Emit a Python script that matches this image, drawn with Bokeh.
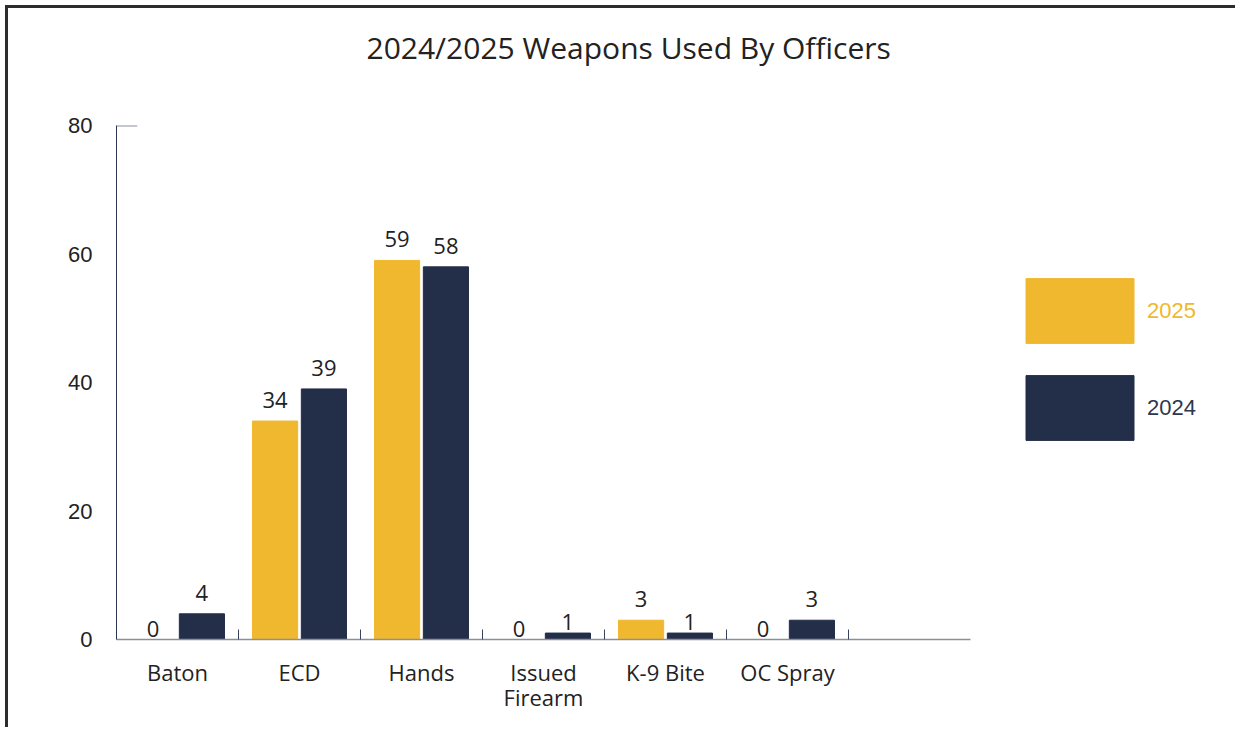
from bokeh.plotting import figure
from bokeh.models import Range1d, FixedTicker, Legend, LegendItem, ColumnDataSource, Title
from bokeh.core.properties import value
from bokeh.embed import file_html
from bokeh.resources import INLINE

# ---- data ----
title_text = "2024/2025 Weapons Used By Officers"
categories = ["Baton", "ECD", "Hands", "Issued\nFirearm", "K-9 Bite", "OC Spray"]
n_slots = 7  # axis reserves one empty slot on the right
series_names = ["2025", "2024"]
values_2025 = [0, 34, 59, 0, 3, 0]
values_2024 = [4, 39, 58, 1, 1, 3]
y_ticks = [0, 20, 40, 60, 80]

YELLOW = "#F0B82E"
NAVY = "#232E48"
TEXT = "#222222"
MAIN_FONT = "Open Sans"
NUM_FONT = "Liberation Sans"

# ---- layout constants (pixels) ----
W, H = 1230, 722
LEFT, TOP, BOTTOM = 108, 117, 91
AXIS_PX = 854                      # pixel length of the 7-slot axis
frame_px = W - LEFT
x_end = n_slots * frame_px / AXIS_PX   # frame extends right to hold the legend

centers = [i + 0.5 for i in range(len(categories))]
x25 = [c - 0.2 for c in centers]
x24 = [c + 0.2 for c in centers]

p = figure(width=W, height=H,
           x_range=Range1d(0, x_end), y_range=Range1d(y_ticks[0], y_ticks[-1]),
           output_backend="svg", toolbar_location=None,
           min_border_left=LEFT, min_border_right=0,
           min_border_top=TOP, min_border_bottom=BOTTOM)
p.styles = {"border-left": "3px solid #2d2d2d", "border-top": "3px solid #2d2d2d",
            "margin-left": "5px", "margin-top": "5px"}
p.outline_line_color = None
p.xgrid.visible = False
p.ygrid.visible = False
p.background_fill_color = "white"
p.border_fill_color = "white"

# title (outermost) with a thin spacer title between it and the plot
p.title.text = title_text
p.title.align = "left"
p.title.offset = 250
p.title.vertical_align = "top"
p.title.standoff = 34
p.title.text_font = MAIN_FONT
p.title.text_font_size = "30px"
p.title.text_font_style = "normal"
p.title.text_color = TEXT
p.add_layout(Title(text=" ", text_font_size="1px", standoff=36), "above")

# bars
r25 = p.vbar(x=x25, top=values_2025, width=0.37, fill_color=YELLOW, line_color=YELLOW)
r24 = p.vbar(x=x24, top=values_2024, width=0.37, fill_color=NAVY, line_color=NAVY)

# value labels
lab_x = x25 + x24
lab_v = values_2025 + values_2024
lab_off = [-21 if v >= 2 else -11 for v in lab_v]
src = ColumnDataSource(dict(x=lab_x, y=lab_v, t=[str(v) for v in lab_v], off=lab_off))
p.text(x="x", y="y", text="t", y_offset="off", source=src,
       text_align="center", text_baseline="middle",
       text_font=value(MAIN_FONT), text_font_size="22px", text_color=TEXT)

# top stub of y axis
p.segment(x0=[0], y0=[y_ticks[-1]], x1=[0.17], y1=[y_ticks[-1]],
          line_color="#8a8fa0", line_width=2)

# x axis
xa = p.xaxis[0]
xa.bounds = (0, n_slots)
xa.ticker = FixedTicker(ticks=centers, minor_ticks=list(range(1, n_slots)))
xa.major_label_overrides = {c: lab for c, lab in zip(centers, categories)}
xa.major_tick_in = 0
xa.major_tick_out = 0
xa.minor_tick_in = 10
xa.minor_tick_out = 0
xa.minor_tick_line_color = "#3a4260"
xa.minor_tick_line_width = 1
xa.axis_line_color = "#8a8fa0"
xa.axis_line_width = 1.5
xa.major_label_standoff = 17
xa.major_label_text_font = MAIN_FONT
xa.major_label_text_font_size = "22px"
xa.major_label_text_line_height = 0.86
xa.major_label_text_color = TEXT

# y axis
ya = p.yaxis[0]
ya.ticker = FixedTicker(ticks=y_ticks, minor_ticks=[])
ya.major_tick_in = 0
ya.major_tick_out = 0
ya.minor_tick_in = 0
ya.minor_tick_out = 0
ya.axis_line_color = "#2a3350"
ya.axis_line_width = 1
ya.major_label_standoff = 24
ya.major_label_text_font = NUM_FONT
ya.major_label_text_font_size = "22px"
ya.major_label_text_color = TEXT

# legends (one per series so each label can have its own colour)
def make_legend(name, rend, color, loc):
    return Legend(items=[LegendItem(label=name, renderers=[rend])], location=loc,
                  glyph_width=135, glyph_height=81, label_standoff=0,
                  padding=0, margin=0, spacing=0,
                  border_line_color=None, background_fill_alpha=0,
                  label_text_color=color, label_text_font=NUM_FONT,
                  label_text_font_size="22px")

p.add_layout(make_legend(series_names[0], r25, YELLOW, (896, 288)))
p.add_layout(make_legend(series_names[1], r24, "#2E3650", (896, 191)))

open("out.html", "w").write(file_html(p, INLINE))
